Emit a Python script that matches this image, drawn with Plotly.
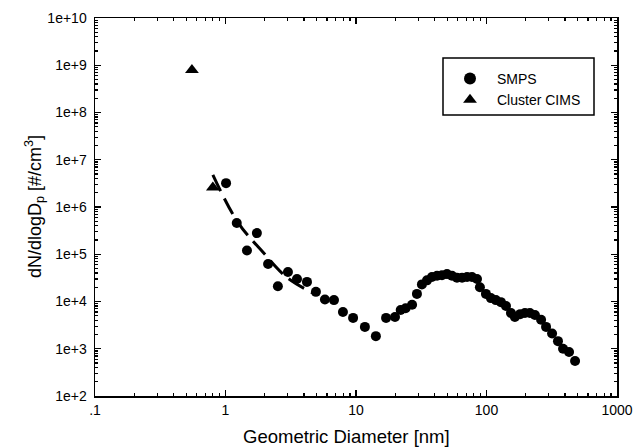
import plotly.graph_objects as go

# SMPS data (diameter nm, dN/dlogDp)
smps_d = [1.01, 1.22, 1.46, 1.74, 2.12, 2.52, 3.01, 3.53, 4.21, 4.93, 5.78, 6.78, 7.94, 9.5,
          11.7, 14.2, 17.0, 19.9, 22.0, 24.0, 26.9, 29.3, 32, 35, 38.2, 41.8, 45.6, 49.8,
          54.4, 59.4, 65, 71, 77.4, 84.6, 89, 99, 108, 118, 129, 141, 154, 165, 181, 197,
          215, 235, 262, 286, 318, 353, 386, 429, 477]
smps_n = [3.2e6, 4.6e5, 1.2e5, 2.8e5, 6.2e4, 2.1e4, 4.2e4, 3.0e4, 2.6e4, 1.6e4, 1.1e4, 1.07e4,
          6.0e3, 4.5e3, 2.9e3, 1.85e3, 4.5e3, 4.7e3, 6.6e3, 7.2e3, 8.5e3, 1.45e4, 2.3e4, 2.8e4,
          3.3e4, 3.5e4, 3.6e4, 3.8e4, 3.5e4, 3.2e4, 3.2e4, 3.3e4, 3.3e4, 3.0e4, 2.0e4, 1.45e4,
          1.18e4, 1.07e4, 9.7e3, 8.0e3, 5.7e3, 4.7e3, 5.4e3, 5.7e3, 5.7e3, 5.2e3, 4.1e3, 2.9e3,
          2.1e3, 1.45e3, 1.0e3, 8.5e2, 5.5e2]

# Cluster CIMS data
cims_d = [0.553, 0.80]
cims_n = [7.9e8, 2.6e6]

# Dashed fit line
fit_d = [0.80, 1.24, 1.94, 2.97, 4.7]
fit_n = [4.8e6, 4.8e5, 1.1e5, 3.2e4, 1.5e4]

x_tickvals = [0.1, 1, 10, 100, 1000]
x_ticktext = [".1", "1", "10", "100", "1000"]
y_tickvals = [1e2, 1e3, 1e4, 1e5, 1e6, 1e7, 1e8, 1e9, 1e10]
y_ticktext = ["1e+2", "1e+3", "1e+4", "1e+5", "1e+6", "1e+7", "1e+8", "1e+9", "1e+10"]

x_minor = [m * 10 ** e for e in range(-1, 3) for m in range(2, 10)]
y_minor = [m * 10 ** e for e in range(2, 10) for m in range(2, 10)]

FONT = "Liberation Sans, Arial, sans-serif"
W, H = 635, 448
L, R, T, B = 95, 18, 18, 52
PW, PH = W - L - R, H - T - B


def px_x(px):
    return (px - L) / PW


def px_y(py):
    return (H - B - py) / PH


fig = go.Figure()
fig.add_trace(go.Scatter(x=fit_d, y=fit_n, mode="lines", line_shape="spline",
                         line=dict(color="black", width=3, dash="18px,8px"),
                         showlegend=False, hoverinfo="skip"))
fig.add_trace(go.Scatter(x=smps_d, y=smps_n, mode="markers", name="SMPS",
                         marker=dict(symbol="circle", size=10, color="black")))
fig.add_trace(go.Scatter(x=cims_d, y=cims_n, mode="markers", name="Cluster CIMS",
                         marker=dict(symbol="triangle-up", size=12, color="black")))

axis_common = dict(showgrid=False, zeroline=False, showline=True, linecolor="black",
                   linewidth=1.5, mirror="allticks", ticks="inside", ticklen=6,
                   tickcolor="black", tickwidth=1.2, automargin=False,
                   tickfont=dict(family=FONT, size=14, color="black"))

fig.update_xaxes(type="log", range=[-1, 3], tickvals=x_tickvals, ticktext=x_ticktext,
                 ticklabelstandoff=1,
                 minor=dict(tickvals=x_minor, ticks="inside", ticklen=3, tickcolor="black",
                            showgrid=False),
                 **axis_common)
fig.update_yaxes(type="log", range=[2, 10], tickvals=y_tickvals, ticktext=y_ticktext,
                 ticklabelstandoff=4,
                 minor=dict(tickvals=y_minor, ticks="inside", ticklen=3, tickcolor="black",
                            showgrid=False),
                 **axis_common)

# axis titles
fig.add_annotation(text="Geometric Diameter [nm]", xref="paper", yref="paper",
                   x=px_x(346), y=px_y(436), xanchor="center", yanchor="middle",
                   showarrow=False, font=dict(family=FONT, size=18.5, color="black"))
fig.add_annotation(text="dN/dlogD<sub>p</sub> [#/cm<sup>3</sup>]", xref="paper", yref="paper",
                   x=px_x(34), y=px_y(207), xanchor="center", yanchor="middle",
                   textangle=-90, showarrow=False,
                   font=dict(family=FONT, size=18, color="black"))

# legend frame
fig.add_shape(type="rect", xref="paper", yref="paper",
              x0=px_x(443), x1=px_x(594), y0=px_y(115), y1=px_y(58),
              line=dict(color="black", width=1.5), fillcolor="rgba(0,0,0,0)")

fig.update_layout(
    width=W, height=H,
    margin=dict(l=L, r=R, t=T, b=B),
    paper_bgcolor="white", plot_bgcolor="white",
    font=dict(family=FONT, color="black"),
    hovermode=False,
    legend=dict(x=px_x(443), y=px_y(63), xanchor="left", yanchor="top",
                borderwidth=0, bgcolor="rgba(0,0,0,0)",
                font=dict(family=FONT, size=14, color="black"),
                itemwidth=44, itemsizing="constant"),
)

fig.write_html("out.html", config={"displayModeBar": False, "staticPlot": True},
               post_script="document.body.style.margin='0px';")
